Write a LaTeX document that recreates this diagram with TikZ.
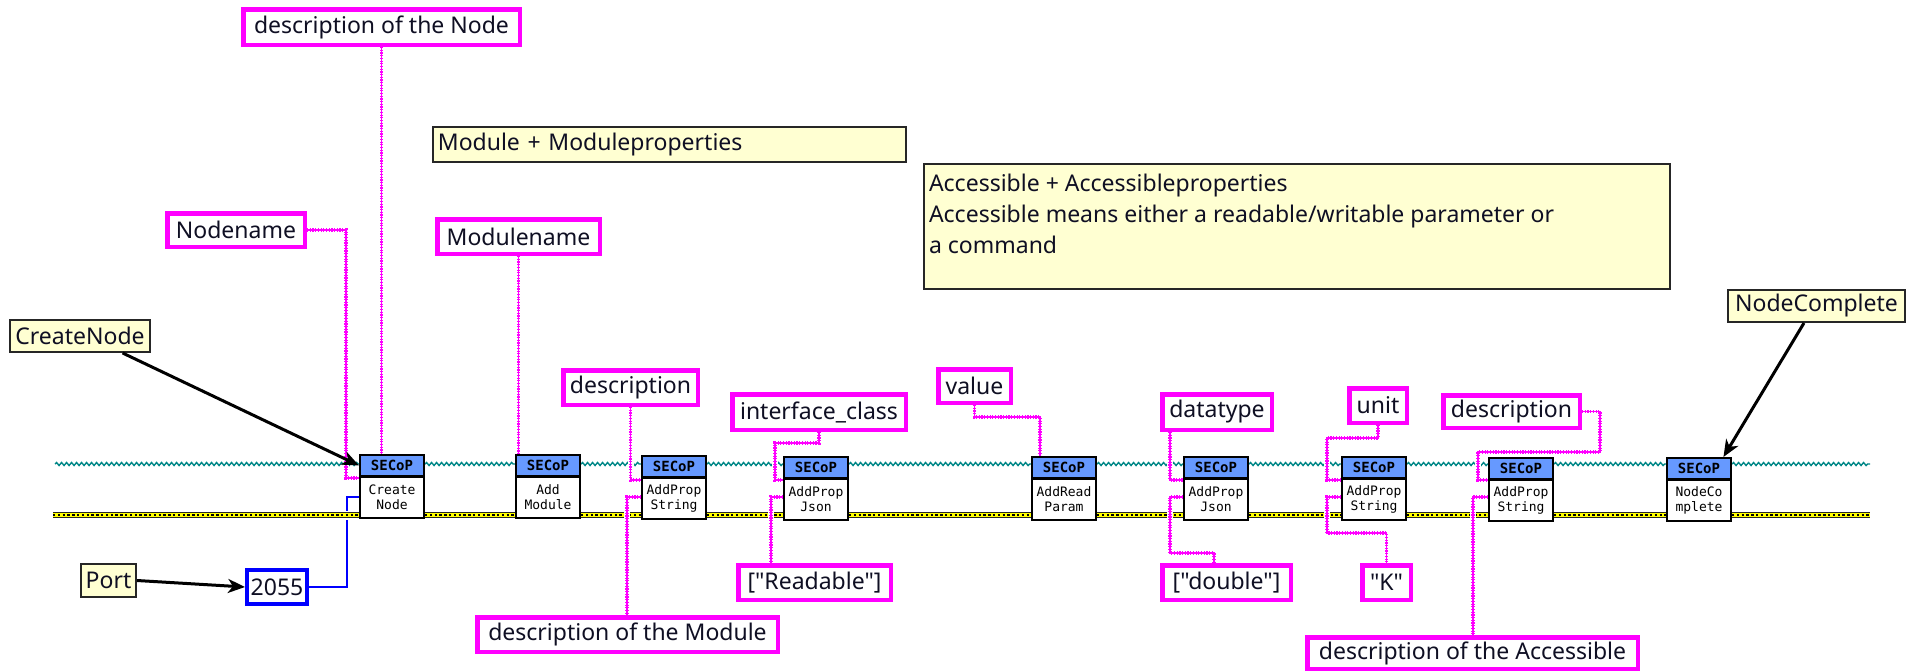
\documentclass[tikz,border=0pt]{standalone}
\usepackage{fontspec}
\newfontfamily\lblfont{Noto Sans}
\newfontfamily\pixfont{DejaVu Sans Mono}
\usetikzlibrary{arrows.meta,decorations.pathmorphing,calc}

\definecolor{strpink}{RGB}{255,0,255}
\definecolor{refteal}{RGB}{0,135,135}
\definecolor{errylw}{RGB}{255,255,0}
\definecolor{hdrblue}{RGB}{102,153,255}
\definecolor{notefill}{RGB}{255,255,210}
\definecolor{numblue}{RGB}{0,0,255}
\definecolor{inktext}{RGB}{15,15,35}

\pgfdeclarelayer{bg}
\pgfdeclarelayer{wires}
\pgfsetlayers{bg,wires,main}

\tikzset{
  lbl/.style={font=\lblfont\fontsize{23}{27}\selectfont, text=inktext},
  strc/.style={lbl, draw=strpink, line width=4.5pt, fill=white, inner sep=0pt},
  note/.style={lbl, draw=black!85, line width=1.8pt, fill=notefill, inner sep=0pt},
  numc/.style={lbl, draw=numblue, line width=4pt, fill=white, inner sep=0pt},
  vihead/.style={draw=black, line width=1.6pt, fill=hdrblue, minimum width=64.4pt,
    minimum height=21.4pt, inner sep=0pt, font=\pixfont\bfseries\fontsize{14}{14}\selectfont},
  vibody/.style={draw=black, line width=1.6pt, fill=white, minimum width=64.4pt,
    minimum height=41.4pt, inner sep=0pt, align=center,
    font=\pixfont\fontsize{13}{15}\selectfont},
  refw/.style={draw=refteal, line width=1.4pt, decorate,
    decoration={snake, amplitude=1.5pt, segment length=5pt}},
  errw/.style={draw=black!85, line width=6pt,
    preaction={draw=white, line width=9pt},
    postaction={draw=errylw, line width=3.6pt},
    postaction={draw=black, line width=1.6pt, dash pattern=on 2.4pt off 2.4pt}},
  strw/.style={draw=strpink, line width=1.2pt,
    preaction={draw=white, line width=6pt},
    postaction={draw=strpink, line width=3.4pt, dash pattern=on 1.2pt off 1.5pt}},
  numw/.style={draw=numblue, line width=1.6pt},
  arr/.style={draw=black, line width=3pt, -{Stealth[length=17pt,width=14pt,inset=5pt]}},
}

% a SECoP VI: name, left x, top y, body text
\newcommand\secopvi[4]{%
  \node[vihead, anchor=north west] (h#1) at (#2,#3) {SECoP};
  \node[vibody, anchor=north west] (#1) at (#2,#3+22) {#4};}

% a box given by its outer corners: style, name, x1, y1, x2, y2, text
\newcommand\boxat[7]{%
  \node[#1, minimum width={#5-#3-\pgflinewidth}, minimum height={#6-#4-\pgflinewidth}]
    (#2) at ({(#3+#5)/2},{(#4+#6)/2}) {#7};}

\begin{document}
\begin{tikzpicture}[x=1pt,y=-1pt]
\begin{pgfonlayer}{bg}
  \fill[white] (0,0) rectangle (1907,672);
\end{pgfonlayer}
\useasboundingbox (0,0) rectangle (1907,672);

% SECoP VIs
\secopvi{b1}{359}{454}{Create\\Node}
\secopvi{b2}{515}{454}{Add\\Module}
\secopvi{b3}{641}{455}{AddProp\\String}
\secopvi{b4}{783}{456}{AddProp\\Json}
\secopvi{b5}{1031}{456}{AddRead\\Param}
\secopvi{b6}{1183}{456}{AddProp\\Json}
\secopvi{b7}{1341}{456}{AddProp\\String}
\secopvi{b8}{1488}{457}{AddProp\\String}
\secopvi{b9}{1666}{457}{NodeCo\\mplete}

% string constants
\boxat{strc}{dn}{241}{7}{522}{47}{description of the Node}
\boxat{strc}{nn}{165}{211}{307}{249}{Nodename}
\boxat{strc}{mn}{435}{217}{602}{256}{Modulename}
\boxat{strc}{d1}{561}{368}{700}{407}{description}
\boxat{strc}{val}{936}{367}{1013}{405}{value}
\boxat{strc}{ic}{730}{392}{908}{432}{interface\_class}
\boxat{strc}{rd}{736}{563}{893}{602}{["Readable"]}
\boxat{strc}{dt}{1160}{392}{1274}{432}{datatype}
\boxat{strc}{db}{1160}{563}{1293}{602}{["double"]}
\boxat{strc}{un}{1347}{386}{1409}{425}{unit}
\boxat{strc}{kk}{1360}{563}{1413}{602}{"K"}
\boxat{strc}{d2}{1441}{393}{1582}{430}{description}
\boxat{strc}{da}{1305}{635}{1640}{671}{description of the Accessible}
\boxat{strc}{dm}{475}{615}{780}{654}{description of the Module}

% numeric constant
\boxat{numc}{n55}{245}{568}{309}{606}{2055}

% free labels
\boxat{note}{cn}{9}{319}{151}{353}{CreateNode}
\boxat{note}{pt}{80}{563}{137}{598}{Port}
\boxat{note}{nc}{1727}{289}{1906}{323}{NodeComplete}
\node[note, anchor=north west, minimum width=473.2pt, minimum height=35.2pt,
  text width=463.2pt, inner xsep=5pt, align=left] (mm) at (432,126)
  {Module + Moduleproperties};
\node[note, anchor=north west, minimum width=746.2pt, minimum height=125.2pt] (ac) at (923,163)
  {\parbox[c][115pt][t]{736pt}{\fontsize{23}{31}\selectfont\raggedright
   \vspace*{5pt}Accessible + Accessibleproperties\\
   Accessible means either a readable/writable parameter or\\
   a command}};

\begin{pgfonlayer}{wires}
  % reference wire
  \coordinate (tl) at (55,464);
  \coordinate (tr) at (1870,464);
  \draw[refw] (tl) -- (tl -| hb1.west);
  \foreach \a/\b in {b1/b2,b2/b3,b3/b4,b4/b5,b5/b6,b6/b7,b7/b8,b8/b9}
    \draw[refw] (tl -| h\a.east) -- (tl -| h\b.west);
  \draw[refw] (tl -| hb9.east) -- (tr);

  % port number
  \draw[numw] (n55.east) -| (347,497) -- (b1.west |- 0,497);

  % error wire
  \coordinate (yl) at (53,515);
  \coordinate (yr) at (1870,515);
  \draw[errw] (yl) -- (yl -| b1.west);
  \foreach \a/\b in {b1/b2,b2/b3,b3/b4,b4/b5,b5/b6,b6/b7,b7/b8,b8/b9}
    \draw[errw] (yl -| \a.east) -- (yl -| \b.west);
  \draw[errw] (yl -| b9.east) -- (yr);

  % string wires
  \draw[strw] (nn.east) -| (346,478) -- (b1.west |- 0,478);
  \draw[strw] (dn.south) -- (dn.south |- hb1.north);
  \draw[strw] (mn.south) -- (mn.south |- hb2.north);
  \draw[strw] (d1.south) |- (b3.west |- 0,480);
  \draw[strw] (b3.west |- 0,497) -| (dm.north -| 627,0);
  \draw[strw] (ic.south) |- (775,443) |- (b4.west |- 0,480);
  \draw[strw] (b4.west |- 0,497) -| (rd.north -| 771,0);
  \draw[strw] (val.south) |- (1040,417) -- (hb5.north -| 1040,0);
  \draw[strw] (dt.south -| 1170,0) |- (b6.west |- 0,480);
  \draw[strw] (b6.west |- 0,497) -| (1170,553) -| (db.north -| 1214,0);
  \draw[strw] (un.south) |- (1327,438) |- (b7.west |- 0,480);
  \draw[strw] (b7.west |- 0,497) -| (1327,533) -| (kk.north);
  \draw[strw] (d2.east) -| (1600,452) -| (1478,480) -- (b8.west |- 0,480);
  \draw[strw] (b8.west |- 0,497) -| (da.north -| 1473,0);
\end{pgfonlayer}

% label arrows
\draw[arr] ($(cn.south west)!0.8!(cn.south east)$) -- (hb1.west);
\draw[arr] (pt.east) -- (n55.west);
\draw[arr] ($(nc.south west)!0.43!(nc.south east)$) -- ($(hb9.north west)!0.87!(hb9.north east)$);
\end{tikzpicture}
\end{document}
